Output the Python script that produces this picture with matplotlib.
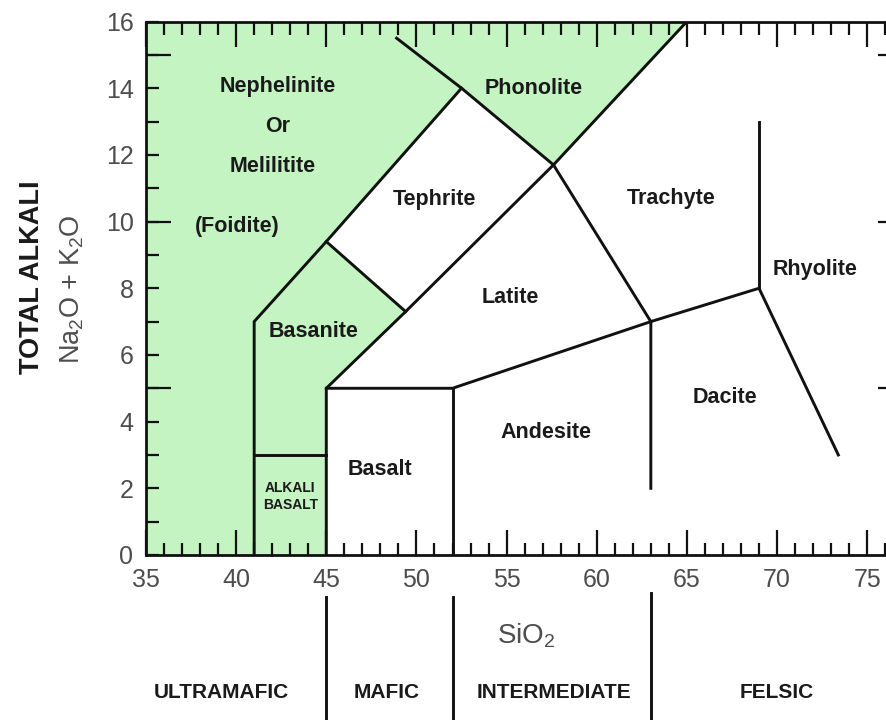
import matplotlib
matplotlib.use('Agg')
import matplotlib.pyplot as plt
import matplotlib.transforms as mtransforms
from matplotlib.ticker import MultipleLocator, FixedLocator, FuncFormatter
from matplotlib.patches import Polygon

plt.rcParams['font.family'] = ['Liberation Sans', 'DejaVu Sans']
plt.rcParams['mathtext.fontset'] = 'custom'
plt.rcParams['mathtext.rm'] = 'Liberation Sans'
plt.rcParams['mathtext.it'] = 'Liberation Sans:italic'
plt.rcParams['mathtext.bf'] = 'Liberation Sans:bold'

# ---------------- data ----------------
# green (silica-undersaturated) fields
green_foidite_phonolite = [(35, 0), (41, 0), (41, 7), (45, 9.4), (52.5, 14), (57.6, 11.7), (65, 16), (35, 16)]
green_basanite_alkali = [(41, 0), (45, 0), (45, 5), (49.4, 7.3), (45, 9.4), (41, 7)]

# field boundary polylines (SiO2, Na2O+K2O)
boundaries = [
    [(41, 0), (41, 7), (45, 9.4), (52.5, 14)],
    [(48.9, 15.5), (52.5, 14), (57.6, 11.7), (63, 7), (63, 2)],
    [(45, 0), (45, 5), (49.4, 7.3), (57.6, 11.7), (65, 16)],
    [(45, 9.4), (49.4, 7.3)],
    [(41, 3), (45, 3)],
    [(45, 5), (52, 5), (63, 7), (69, 8), (73.4, 3)],
    [(52, 0), (52, 5)],
    [(69, 8), (69, 13)],
]

field_names = ['Nephelinite', 'Or', 'Melilitite', '(Foidite)', 'Phonolite', 'Tephrite',
               'Trachyte', 'Latite', 'Rhyolite', 'Basanite', 'Basalt', 'Andesite', 'Dacite']
field_x = [42.3, 42.3, 42.05, 40.05, 56.5, 51.0, 64.1, 55.2, 72.1, 44.3, 48.0, 57.2, 67.1]
field_y = [14.04, 12.84, 11.64, 9.84, 14.0, 10.65, 10.68, 7.71, 8.55, 6.69, 2.55, 3.66, 4.71]

small_names = ['ALKALI', 'BASALT']
small_x = [43.0, 43.0]
small_y = [2.02, 1.5]

class_dividers = [45, 52, 63]
class_names = ['ULTRAMAFIC', 'MAFIC', 'INTERMEDIATE', 'FELSIC']
class_x = [39.2, 48.35, 57.6, 70.0]

x_min, x_max = 35, 77
y_min, y_max = 0, 16

# ---------------- figure ----------------
W, H = 887, 720
fig = plt.figure(figsize=(W / 100, H / 100), dpi=100)
px0, px1 = 146, 146 + 42 * 18.03
py0, py1 = 555, 21.5
ax = fig.add_axes([px0 / W, (H - py0) / H, (px1 - px0) / W, (py0 - py1) / H])
ax.set_xlim(x_min, x_max)
ax.set_ylim(y_min, y_max)

green = '#c4f4c2'
ax.add_patch(Polygon(green_foidite_phonolite, closed=True, facecolor=green, edgecolor='none', zorder=0))
ax.add_patch(Polygon(green_basanite_alkali, closed=True, facecolor=green, edgecolor='none', zorder=0))

for seg in boundaries:
    xs = [p[0] for p in seg]
    ys = [p[1] for p in seg]
    ax.plot(xs, ys, color='#111111', lw=2.1, solid_joinstyle='miter', zorder=2)

for name, x, y in zip(field_names, field_x, field_y):
    ax.text(x, y, name, ha='center', va='center', fontsize=15.5, fontweight='bold', color='#1a1a1a', zorder=3)
for name, x, y in zip(small_names, small_x, small_y):
    ax.text(x, y, name, ha='center', va='center', fontsize=10, fontweight='bold', color='#1a1a1a', zorder=3)

# spines and ticks
for s in ax.spines.values():
    s.set_linewidth(2.0)
    s.set_color('#111111')

ax.xaxis.set_major_locator(MultipleLocator(5))
ax.xaxis.set_minor_locator(MultipleLocator(1))
ax.tick_params(axis='x', which='major', direction='in', length=18, width=1.6, top=True, bottom=True,
               labelsize=18, labelcolor='#4d4d4d', pad=9.5, color='#111111')
ax.tick_params(axis='x', which='minor', direction='in', length=9, width=1.6, top=True, bottom=True, color='#111111')

ax.yaxis.set_major_locator(MultipleLocator(1))
ax.yaxis.set_major_formatter(FuncFormatter(lambda v, p: f'{int(round(v))}' if int(round(v)) % 2 == 0 else ''))
ax.yaxis.set_minor_locator(FixedLocator([5, 10, 15]))
ax.yaxis.remove_overlapping_locs = False
ax.tick_params(axis='y', which='major', direction='in', length=9, width=1.6, left=True, right=False,
               labelsize=18, labelcolor='#4d4d4d', pad=9, color='#111111')
ax.tick_params(axis='y', which='minor', direction='in', length=18, width=1.6, left=True, right=True, color='#111111')

# axis titles
fig.text(32 / W, 1 - 277 / H, 'TOTAL ALKALI', rotation=90, ha='center', va='center',
         fontsize=19.5, fontweight='bold', color='#1a1a1a')
fig.text(72 / W, 1 - 289 / H, 'Na$_2$O + K$_2$O', rotation=90, ha='center', va='center',
         fontsize=19.5, color='#4d4d4d')

trans = mtransforms.blended_transform_factory(ax.transData, fig.transFigure)
ax.text(56.08, 1 - 636 / H, 'SiO$_2$', transform=trans, ha='center', va='center', fontsize=20,
        color='#4d4d4d', clip_on=False)

div_tops = [1 - 597 / H, 1 - 597 / H, 1 - 593 / H]
for xd, yt in zip(class_dividers, div_tops):
    ax.plot([xd, xd], [0, yt], transform=trans, color='#111111', lw=2.1, clip_on=False)
for name, x in zip(class_names, class_x):
    ax.text(x, 1 - 692 / H, name, transform=trans, ha='center', va='center', fontsize=15,
            fontweight='bold', color='#1a1a1a', clip_on=False)

fig.savefig('out.png', dpi=100)
